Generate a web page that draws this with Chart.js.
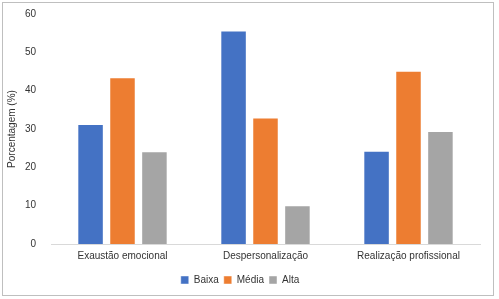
<!DOCTYPE html>
<html>
<head>
<meta charset="utf-8">
<script src="https://cdn.jsdelivr.net/npm/chart.js@4/dist/chart.umd.min.js"></script>
<style>
  body { margin: 0; background: #fff; }
  #wrap { position: relative; width: 499px; height: 299px; }
  #frame { position: absolute; left: 2px; top: 2px; width: 490px; height: 292px; border: 1px solid #bfbfbf; pointer-events: none; }
</style>
</head>
<body>
<div id="wrap">
  <canvas id="chart" width="499" height="299"></canvas>
  <div id="frame"></div>
</div>
<script>
const categorias = ["Exaustão emocional", "Despersonalização", "Realização profissional"];
const baixa = [31.3, 55.7, 24.3];
const media = [43.5, 33.0, 45.2];
const alta = [24.2, 10.1, 29.5];
const yTicks = [0, 10, 20, 30, 40, 50, 60];

const fonte = { family: "'Liberation Sans', Arial, sans-serif", size: 10 };
const corTexto = "#333333";

const data = {
    labels: categorias,
    datasets: [
        { label: "Baixa", data: baixa, backgroundColor: "#4472C4" },
        { label: "Média", data: media, backgroundColor: "#ED7D31" },
        { label: "Alta", data: alta, backgroundColor: "#A5A5A5" },
    ].map(d => Object.assign(d, {
        borderColor: "rgba(255,255,255,0.45)",
        borderWidth: 1,
        categoryPercentage: 0.67,
        barPercentage: 0.83,
    })),
};

const config = {
    type: "bar",
    data: data,
    options: {
        responsive: false,
        animation: false,
        layout: { padding: { top: 14, right: 19, bottom: 4, left: 0 } },
        plugins: {
            legend: {
                position: "bottom",
                labels: {
                    boxWidth: 8,
                    boxHeight: 8,
                    padding: 5,
                    font: fonte,
                    color: corTexto,
                },
            },
            tooltip: { enabled: false },
        },
        scales: {
            x: {
                grid: { display: false },
                border: { color: "#d9d9d9" },
                ticks: { font: fonte, color: corTexto, padding: -2, maxRotation: 0 },
                afterFit: s => { s.height = 26; },
            },
            y: {
                min: 0,
                max: 60,
                afterBuildTicks: s => { s.ticks = yTicks.map(v => ({ value: v })); },
                grid: { display: false },
                border: { display: false },
                ticks: { font: fonte, color: corTexto, padding: 7 },
                title: {
                    display: true,
                    text: "Porcentagem (%)",
                    font: fonte,
                    color: corTexto,
                    padding: { top: 6, bottom: 0 },
                },
                afterFit: s => { s.width = 51; },
            },
        },
    },
};

new Chart(document.getElementById("chart"), config);
</script>
</body>
</html>
